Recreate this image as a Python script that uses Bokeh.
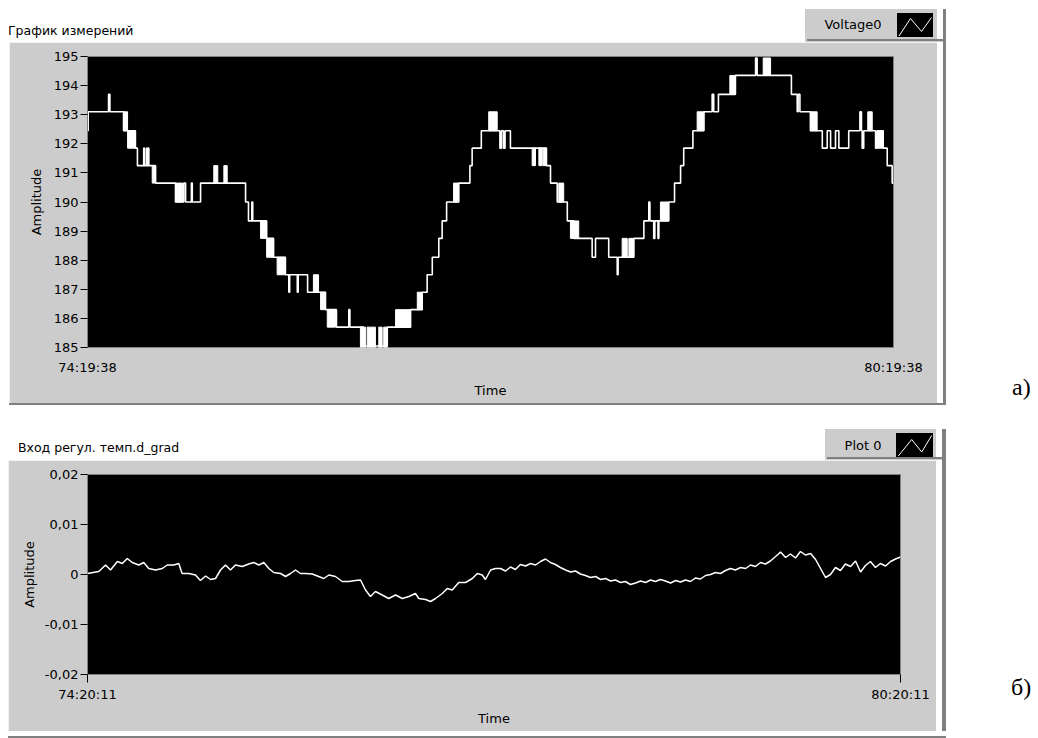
from bokeh.plotting import figure
from bokeh.models import Range1d, FixedTicker, Div
from bokeh.layouts import column, row
from bokeh.embed import file_html
from bokeh.resources import INLINE

# ------------------------------------------------------------------ data
# time axis: minutes from the first sample (0 .. 360)
time_span = [0, 360]
top_tick_labels = ["74:19:38", "80:19:38"]
bot_tick_labels = ["74:20:11", "80:20:11"]
top_y_ticks = [185, 186, 187, 188, 189, 190, 191, 192, 193, 194, 195]
bot_y_ticks = [-0.02, -0.01, 0.0, 0.01, 0.02]
bot_y_tick_labels = ["-0,02", "-0,01", "0", "0,01", "0,02"]

# Voltage0: stepped (quantised) signal, change points (minute, value)
v_time = [0, 0.3, 9.4, 10.0, 16.1, 21.4, 22.3, 25.1, 25.5, 26.4, 26.7, 27.1, 27.4,
          30.4, 39.3, 43.0, 43.8, 46.4, 46.8, 50.5, 70.6, 71.9, 73.4, 73.8, 80.0,
          83.1, 88.4, 89.9, 90.3, 93.7, 94.1, 98.3, 106.3, 111.2, 116.7, 117.2,
          123.3, 133.9, 144.3, 149.5, 151.7, 154.0, 156.9, 158.4, 160.4, 165.8,
          170.8, 171.8, 175.9, 184.2, 184.9, 185.8, 186.5, 188.9, 205.0, 206.8,
          209.8, 214.3, 217.2, 225.4, 226.9, 232.8, 236.6, 237.0, 244.0, 248.5,
          250.7, 251.2, 252.9, 253.4, 254.8, 255.2, 259.6, 262.2, 264.9, 266.3,
          270.4, 275.3, 279.0, 279.7, 281.8, 289.4, 298.4, 299.1, 314.4, 317.0,
          317.4, 318.2, 322.9, 328.2, 330.4, 331.9, 334.1, 335.6, 340.0, 345.0,
          345.7, 346.0, 346.7, 352.0, 352.7, 355.4, 357.2, 359.4, 360]
v_level = [192.45, 193.1, 193.7, 193.1, 192.45, 191.85, 191.25, 191.85, 191.25, 191.85,
           191.25, 191.85, 191.25, 190.65, 190.0, 190.65, 190.0, 190.65, 190.0, 190.65,
           190.0, 189.35, 190.0, 189.35, 188.75, 188.1, 187.5, 186.9, 187.5, 186.9,
           187.5, 186.9, 186.3, 185.7, 186.3, 185.7, 185.05, 185.7, 186.3, 186.9,
           187.5, 188.1, 188.75, 189.35, 190.0, 190.65, 191.25, 191.85, 192.45, 191.85,
           192.45, 191.85, 192.45, 191.85, 191.25, 190.65, 190.0, 189.35, 188.75, 188.1,
           188.75, 188.1, 187.5, 188.1, 188.75, 189.35, 190.0, 189.35, 188.75, 189.35,
           188.75, 189.35, 190.0, 190.65, 191.25, 191.85, 192.45, 193.1, 193.7, 193.1,
           193.7, 194.35, 194.95, 194.35, 193.7, 193.1, 193.7, 193.1, 192.45, 191.85,
           192.45, 191.85, 192.45, 191.85, 192.45, 193.1, 192.45, 191.85, 192.45, 191.85,
           192.45, 191.85, 191.25, 190.65, 190.65]

# Voltage0: intervals where the reading flickers between two levels
flick_start = [16.1, 17.9, 28.9, 39.3, 56.4, 60.9, 77.3, 80.0, 84.7, 100.9, 104.1, 107.1,
               121.9, 124.9, 130.1, 132.3, 137.6, 147.3, 163.5, 179.2, 198.6, 201.6,
               203.5, 210.5, 215.7, 238.8, 241.8, 255.9, 272.3, 286.9, 301.8, 322.9,
               348.5, 352.7]
flick_end = [17.9, 21.4, 30.4, 42.4, 58.2, 62.4, 80.0, 83.1, 88.4, 103.2, 106.3, 110.8,
             124.2, 128.6, 131.6, 133.9, 144.3, 149.5, 165.8, 183.0, 200.1, 203.1,
             205.0, 212.7, 219.4, 241.1, 244.0, 259.6, 275.3, 289.4, 305.1, 325.9,
             350.5, 355.4]
flick_low = [192.45, 191.85, 190.65, 190.0, 190.65, 190.65, 188.75, 188.1, 187.5, 186.9,
             186.3, 185.7, 185.0, 185.0, 185.0, 185.0, 185.7, 186.3, 190.0, 192.45,
             191.25, 191.25, 191.25, 190.0, 188.75, 188.1, 188.1, 189.35, 192.45, 193.7,
             194.35, 192.45, 192.45, 191.85]
flick_high = [193.1, 192.45, 191.25, 190.65, 191.25, 191.25, 189.35, 188.75, 188.1, 187.5,
              186.9, 186.3, 185.7, 185.7, 185.7, 185.7, 186.3, 186.9, 190.65, 193.1,
              191.85, 191.85, 191.85, 190.65, 189.35, 188.75, 188.75, 190.0, 193.1, 194.35,
              194.95, 193.1, 193.1, 192.45]

# Plot 0: d_grad input
d_time = [0, 5.0, 8.0, 10.2, 13.2, 15.4, 17.6, 19.8, 22.7, 24.9, 27.1, 30.1, 33.1, 35.3,
          38.2, 40.4, 41.9, 44.9, 47.8, 50.0, 52.3, 54.5, 56.7, 58.9, 61.1, 63.3, 65.5,
          68.5, 71.4, 73.6, 75.9, 78.1, 80.3, 82.5, 85.5, 87.7, 89.9, 92.1, 94.3, 96.5,
          99.5, 102.4, 104.6, 106.9, 109.8, 112.8, 115.7, 118.7, 120.9, 123.1, 125.3,
          127.5, 130.5, 133.4, 136.4, 139.4, 142.3, 145.2, 146.7, 149.7, 151.9, 154.1,
          157.1, 159.3, 161.5, 164.4, 167.4, 170.4, 172.6, 174.8, 176.2, 178.5, 180.7,
          182.9, 185.1, 187.3, 189.5, 191.7, 194.0, 196.2, 198.4, 200.6, 202.8, 205.0,
          207.2, 209.4, 211.7, 213.9, 216.1, 218.3, 220.5, 222.7, 225.0, 227.2, 229.4,
          231.6, 233.8, 236.0, 238.2, 240.4, 242.7, 244.9, 247.1, 249.3, 251.5, 253.7,
          255.9, 258.2, 260.4, 262.6, 264.8, 267.0, 269.2, 271.4, 273.7, 275.9, 278.1,
          280.3, 282.5, 284.7, 286.9, 289.2, 291.4, 293.6, 295.8, 298.0, 300.2, 302.4,
          304.7, 306.9, 309.1, 311.3, 313.5, 315.7, 317.9, 320.2, 322.4, 324.6, 326.8,
          329.0, 331.2, 333.4, 335.6, 337.9, 340.1, 342.3, 344.5, 346.7, 348.9, 351.1,
          353.4, 355.6, 357.8, 360]
d_value = [0.0002, 0.0006, 0.0019, 0.0009, 0.0026, 0.0022, 0.0032, 0.0024, 0.0019, 0.0024,
           0.0012, 0.0009, 0.0012, 0.0019, 0.0019, 0.0022, 0.0002, 0.0002, -0.0001, -0.0012,
           -0.0003, -0.0010, -0.0008, 0.0009, 0.0019, 0.0009, 0.0019, 0.0016, 0.0021, 0.0024,
           0.0019, 0.0024, 0.0012, 0.0004, 0.0002, -0.0004, 0.0002, 0.0009, 0.0002, 0.0002,
           0.0001, -0.0004, -0.0008, -0.0001, -0.0004, -0.0014, -0.0014, -0.0012, -0.0011,
           -0.0031, -0.0044, -0.0034, -0.0041, -0.0048, -0.0041, -0.0048, -0.0044, -0.0038,
           -0.0048, -0.0050, -0.0054, -0.0048, -0.0038, -0.0028, -0.0031, -0.0016, -0.0016,
           -0.0008, 0.0002, -0.0001, -0.0010, 0.0009, 0.0012, 0.0012, 0.0007, 0.0015, 0.0010,
           0.0020, 0.0017, 0.0022, 0.0019, 0.0026, 0.0031, 0.0024, 0.0020, 0.0014, 0.0009,
           0.0005, 0.0007, 0.0001, -0.0002, -0.0006, -0.0004, -0.0010, -0.0008, -0.0013,
           -0.0011, -0.0016, -0.0014, -0.0020, -0.0017, -0.0013, -0.0016, -0.0011, -0.0014,
           -0.0010, -0.0013, -0.0017, -0.0012, -0.0015, -0.0011, -0.0014, -0.0007, -0.0009,
           -0.0002, 0.0000, 0.0004, 0.0002, 0.0008, 0.0012, 0.0009, 0.0014, 0.0012, 0.0019,
           0.0016, 0.0024, 0.0021, 0.0027, 0.0036, 0.0045, 0.0034, 0.0041, 0.0033, 0.0046,
           0.0039, 0.0042, 0.0030, 0.0012, -0.0006, 0.0000, 0.0014, 0.0008, 0.0021, 0.0016,
           0.0027, 0.0005, 0.0018, 0.0026, 0.0014, 0.0022, 0.0017, 0.0026, 0.0031, 0.0035]

# ------------------------------------------------------------------ styling helpers
FONT = "DejaVu Sans"
PANEL = "#cccccc"
EDGE = "#808080"


def rect(left, top, width, height, bg):
    return ('<div style="position:absolute;left:%spx;top:%spx;width:%spx;height:%spx;'
            'background:%s;"></div>' % (left, top, width, height, bg))


def txt(left, top, width, s, size=13, align="left", font=FONT, lh=16):
    return ('<div style="position:absolute;left:%spx;top:%spx;width:%spx;text-align:%s;'
            "font-family:'%s';font-size:%spx;line-height:%spx;white-space:nowrap;"
            'color:#000;">%s</div>' % (left, top, width, align, font, size, lh, s))


def swatch(left, top, width, height, pts):
    poly = " ".join("%s,%s" % q for q in pts)
    return ('<div style="position:absolute;left:%spx;top:%spx;width:%spx;height:%spx;'
            'background:#000;"><svg width="%s" height="%s" style="display:block">'
            '<polyline points="%s" fill="none" stroke="#fff" stroke-width="1"/></svg></div>'
            % (left, top, width, height, width, height, poly))


def html_box(width, height, parts):
    inner = "".join(parts)
    return Div(text='<div style="position:relative;width:%spx;height:%spx;overflow:hidden;'
                    'background:#fff;">%s</div>' % (width, height, inner),
               width=width, height=height, margin=0)


def style_axes(p):
    for ax in p.axis:
        ax.major_label_text_font = FONT
        ax.major_label_text_font_size = "13px"
        ax.major_label_text_color = "black"
        ax.axis_label_text_font = FONT
        ax.axis_label_text_font_size = "13px"
        ax.axis_label_text_font_style = "normal"
        ax.axis_label_text_color = "black"
        ax.major_tick_in = 0
        ax.minor_tick_in = 0
        ax.minor_tick_out = 0
        ax.major_tick_line_color = "black"
        ax.axis_line_color = EDGE
    if hasattr(p.xaxis[0], "major_label_background_fill_color"):
        p.xaxis[0].major_label_background_fill_color = "white"
    p.grid.visible = False


# ------------------------------------------------------------------ header of chart a
header1 = html_box(1038, 42, [
    txt(8, 23, 300, "График измерений", size=12.5),
    rect(805, 9, 141, 33, PANEL),
    rect(807, 39, 139, 2, EDGE),
    rect(937, 9, 6, 30, "#fff"),
    rect(943, 9, 3, 33, EDGE),
    txt(818, 17, 70, "Voltage0", align="center"),
    swatch(897, 13, 36, 24, [(2, 23), (13.5, 5.5), (24.5, 18.5), (34.5, 4.5)]),
])

# ------------------------------------------------------------------ chart a
p1 = figure(width=928, height=361, x_range=Range1d(time_span[0], time_span[1]),
            y_range=Range1d(185, 195), output_backend="svg", toolbar_location=None,
            min_border_left=78, min_border_right=44, min_border_top=14,
            min_border_bottom=56, background_fill_color="black",
            border_fill_color=PANEL, outline_line_color=EDGE)

p1.step(v_time, v_level, mode="after", line_color="white", line_width=1.6)
p1.quad(left=flick_start, right=flick_end, bottom=flick_low, top=flick_high,
        fill_color="white", line_color="white", line_width=1)

p1.xaxis.ticker = FixedTicker(ticks=time_span, minor_ticks=[])
p1.xaxis.major_label_overrides = {time_span[0]: top_tick_labels[0],
                                  time_span[1]: top_tick_labels[1]}
p1.xaxis.axis_label = "Time"
p1.yaxis.ticker = FixedTicker(ticks=top_y_ticks, minor_ticks=[])
p1.yaxis.axis_label = "Amplitude"
style_axes(p1)
p1.xaxis.major_tick_out = 0
p1.xaxis.axis_line_color = None
p1.xaxis.major_label_standoff = 12
p1.xaxis.axis_label_standoff = 5
p1.yaxis.major_tick_out = 7
p1.yaxis.major_label_standoff = 2
p1.yaxis.axis_label_standoff = 7

left1 = html_box(9, 361, [])
edge1 = html_box(9, 361, [rect(0, 0, 6, 361, "#fff"), rect(6, 0, 3, 361, EDGE)])
mark1 = html_box(92, 361, [txt(66, 332, 40, "а)", size=24, font="Liberation Serif", lh=26)])

# ------------------------------------------------------------------ header of chart б
header2 = html_box(1038, 57, [
    rect(9, 0, 937, 2, EDGE),
    txt(18, 37, 300, "Вход регул. темп.d_grad", size=12.5),
    rect(825, 26, 121, 31, PANEL),
    rect(827, 54, 119, 2, EDGE),
    rect(936, 26, 6, 28, "#fff"),
    rect(942, 26, 4, 31, EDGE),
    txt(828, 35, 70, "Plot 0", align="center"),
    swatch(896, 30, 37, 24, [(2.3, 23), (15.7, 6.5), (25.7, 19), (35.7, 2.5)]),
])

# ------------------------------------------------------------------ chart б
p2 = figure(width=928, height=271, x_range=Range1d(time_span[0], time_span[1]),
            y_range=Range1d(-0.02, 0.02), output_backend="svg", toolbar_location=None,
            min_border_left=79, min_border_right=36, min_border_top=14,
            min_border_bottom=57, background_fill_color="black",
            border_fill_color=PANEL, outline_line_color=EDGE)

p2.line(d_time, d_value, line_color="white", line_width=1.5)

p2.xaxis.ticker = FixedTicker(ticks=time_span, minor_ticks=[])
p2.xaxis.major_label_overrides = {time_span[0]: bot_tick_labels[0],
                                  time_span[1]: bot_tick_labels[1]}
p2.xaxis.axis_label = "Time"
p2.yaxis.ticker = FixedTicker(ticks=bot_y_ticks, minor_ticks=[])
p2.yaxis.major_label_overrides = dict(zip(bot_y_ticks, bot_y_tick_labels))
p2.yaxis.axis_label = "Amplitude"
style_axes(p2)
p2.xaxis.major_tick_out = 8
p2.xaxis.axis_line_color = None
p2.xaxis.major_label_standoff = 4
p2.xaxis.axis_label_standoff = 6
p2.yaxis.major_tick_out = 7
p2.yaxis.major_label_standoff = 2
p2.yaxis.axis_label_standoff = 5

left2 = html_box(8, 271, [])
edge2 = html_box(10, 271, [rect(0, 0, 6, 271, "#fff"), rect(6, 0, 4, 271, EDGE)])
mark2 = html_box(92, 271, [txt(65, 214, 40, "б)", size=24, font="Liberation Serif", lh=26)])

footer = html_box(1038, 7, [rect(8, 0, 938, 2, EDGE)])

layout = column(
    header1,
    row(left1, p1, edge1, mark1, spacing=0),
    header2,
    row(left2, p2, edge2, mark2, spacing=0),
    footer,
    spacing=0,
)
open("out.html", "w").write(file_html(layout, INLINE))
